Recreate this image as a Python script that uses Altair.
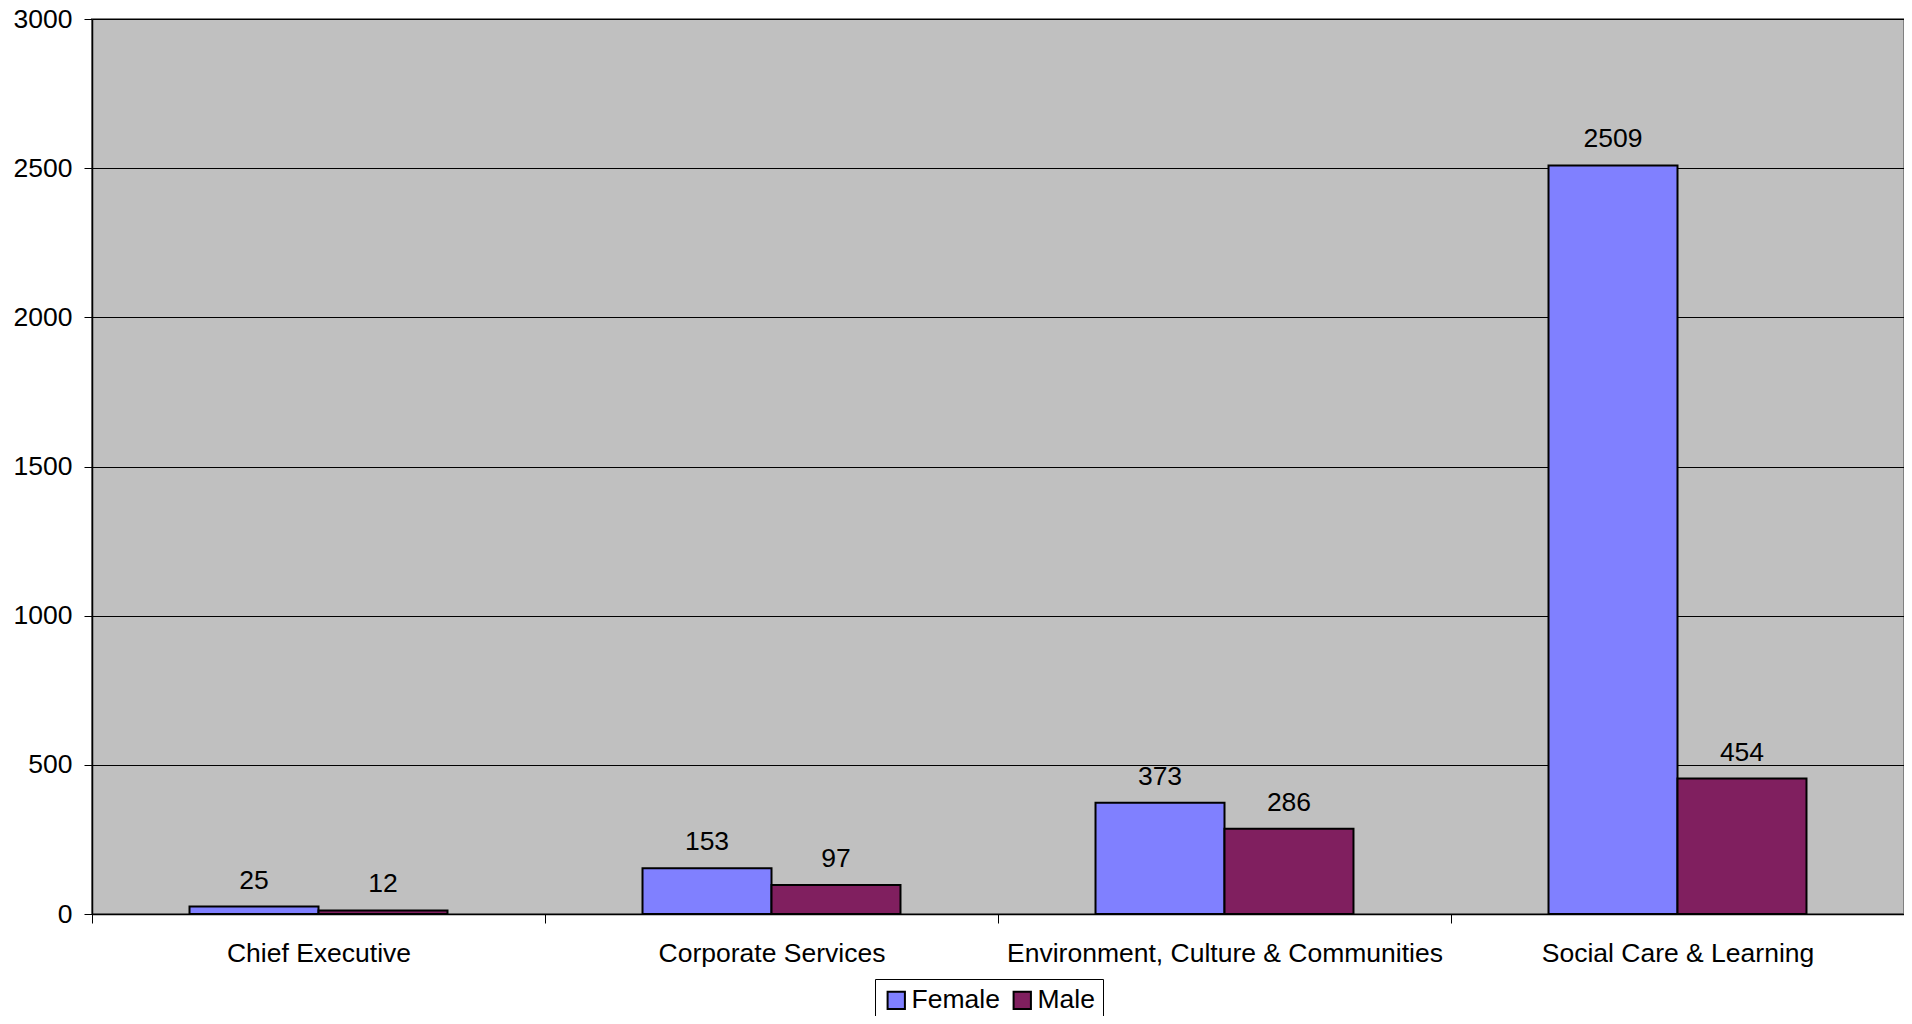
import altair as alt
import pandas as pd

departments = ["Chief Executive", "Corporate Services",
               "Environment, Culture & Communities", "Social Care & Learning"]
genders = ["Female", "Male"]
female = [25, 153, 373, 2509]
male = [12, 97, 286, 454]
y_ticks = [0, 500, 1000, 1500, 2000, 2500, 3000]
colors = ["#8080FF", "#801F5F"]

rows = []
for d, f, m in zip(departments, female, male):
    rows.append({"Department": d, "Gender": "Female", "Count": f})
    rows.append({"Department": d, "Gender": "Male", "Count": m})
df = pd.DataFrame(rows)

FONT = "Liberation Sans"
FS = 26.5

base = alt.Chart(df).encode(
    x=alt.X("Department:N", sort=departments,
            scale=alt.Scale(paddingInner=0, paddingOuter=0),
            axis=alt.Axis(title=None, labelAngle=0, tickBand="extent",
                          tickSize=9, tickColor="black", domainColor="black",
                          domainWidth=1.5, labelFont=FONT, labelFontSize=FS,
                          labelColor="black", labelPadding=17, labelLimit=0,
                          labelOverlap=False, grid=False)),
    xOffset=alt.XOffset("Gender:N", sort=genders,
                        scale=alt.Scale(paddingInner=0, paddingOuter=0.756)),
    y=alt.Y("Count:Q", scale=alt.Scale(domain=[0, 3000], nice=False),
            axis=alt.Axis(title=None, values=y_ticks, format="d", tickSize=8,
                          tickColor="black", domainColor="black", domainWidth=1.5,
                          labelFont=FONT, labelFontSize=FS, labelColor="black",
                          labelPadding=12, grid=True, gridColor="black",
                          gridWidth=1, gridOpacity=1)),
)

bars = base.mark_bar(stroke="black", strokeWidth=2).encode(
    color=alt.Color("Gender:N", sort=genders,
                    scale=alt.Scale(domain=genders, range=colors),
                    legend=alt.Legend(title=None, orient="none", legendX=783,
                                      legendY=960, direction="horizontal",
                                      symbolType="square", symbolSize=300,
                                      symbolStrokeColor="black",
                                      symbolStrokeWidth=2, symbolOpacity=1,
                                      labelFont=FONT, labelFontSize=FS,
                                      labelColor="black", labelOffset=2,
                                      columnPadding=9, padding=8,
                                      strokeColor="black", labelLimit=0))
)

text = base.mark_text(dy=-18, baseline="alphabetic", font=FONT, fontSize=FS,
                      color="black").encode(text="Count:Q")

chart = (bars + text).properties(
    width=1812, height=895,
    autosize=alt.AutoSizeParams(type="none"),
    padding={"left": 84, "top": 11, "right": 0, "bottom": 102},
    background="white",
).configure_view(fill="#C0C0C0", stroke="#808080", strokeWidth=2)

chart.save("out.html", embed_options={"renderer": "svg", "actions": False})
